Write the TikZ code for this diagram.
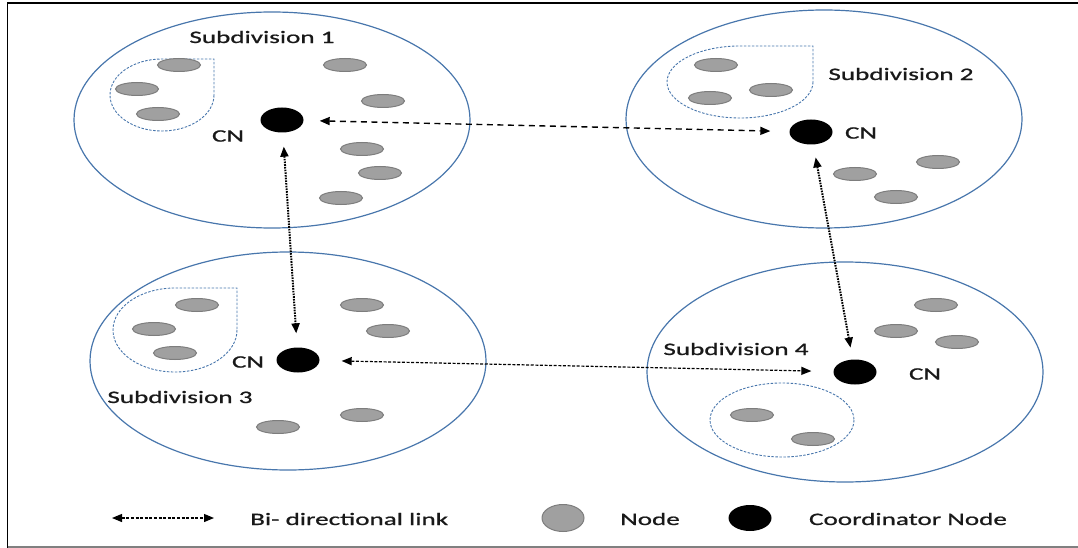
\documentclass[tikz,border=0pt]{standalone}
\usepackage{fontspec}
\newfontfamily\lblfont{Carlito}[FakeStretch=1.55,FakeBold=0.9]
\usetikzlibrary{shapes.geometric,arrows.meta}
\definecolor{subblue}{RGB}{72,118,172}
\definecolor{nodegrey}{RGB}{160,160,160}
\definecolor{nodeedge}{RGB}{125,125,125}
\begin{document}
\begin{tikzpicture}[x=1pt,y=-1pt,
  lbl/.style={font=\lblfont\fontsize{17.5}{20}\selectfont, text=black!90, inner sep=0pt},
  subdiv/.style={draw=subblue, line width=1.2pt},
  region/.style={draw=subblue, line width=0.9pt, dash pattern=on 2.5pt off 1.5pt},
  gnode/.style={ellipse, draw=nodeedge, line width=1pt, fill=nodegrey, inner sep=0pt, minimum width=43pt, minimum height=13pt},
  cnode/.style={ellipse, fill=black, inner sep=0pt, minimum width=43pt, minimum height=25pt},
  biarrow/.style={{Triangle[length=10pt,width=8pt]}-{Triangle[length=10pt,width=8pt]}},
  linkA/.style={biarrow, line width=1.4pt, dash pattern=on 6pt off 4.5pt},
  linkB/.style={biarrow, line width=2pt, dash pattern=on 1.6pt off 1.1pt},
  linkC/.style={biarrow, line width=1.2pt, dash pattern=on 3pt off 1.6pt},
]
\useasboundingbox (0,0) rectangle (1078,548);
% frame
\draw[line width=1.6pt] (7.5,548) -- (7.5,3) -- (1078,3);
\draw[line width=1.2pt, gray] (7.5,547) -- (1078,547);

% subdivision ellipses
\draw[subdiv] (272,120) ellipse[x radius=198, y radius=108];
\draw[subdiv] (824,119) ellipse[x radius=198, y radius=109];
\draw[subdiv] (288,361) ellipse[x radius=198, y radius=109];
\draw[subdiv] (845,372) ellipse[x radius=198, y radius=110];

% dashed groups
\draw[region] (214,95) arc[start angle=0, end angle=270, x radius=52, y radius=36] -- (214,59) -- cycle;
\draw[region] (813,82) arc[start angle=0, end angle=270, x radius=73, y radius=36] -- (813,46) -- cycle;
\draw[region] (237,330) arc[start angle=0, end angle=270, x radius=62, y radius=42] -- (237,288) -- cycle;
\draw[region] (782,420) ellipse[x radius=72, y radius=37];

% labels
\node[lbl] (s1) at (262,37) {Subdivision 1};
\node[lbl] (s2) at (901,74) {Subdivision 2};
\node[lbl] (s3) at (180,397) {Subdivision 3};
\node[lbl] (s4) at (736,349) {Subdivision 4};

% coordinator nodes
\node[cnode] (cn1) at (282,120) {};
\node[cnode] (cn2) at (811,132) {};
\node[cnode] (cn3) at (298,360) {};
\node[cnode] (cn4) at (855,372) {};
\node[lbl] (l1) at (228,136) {CN};
\node[lbl] (l2) at (861,133) {CN};
\node[lbl] (l3) at (248,362) {CN};
\node[lbl] (l4) at (925,374) {CN};

% sub 1 nodes
\node[gnode] (a1) at (179,65) {};
\node[gnode] (a2) at (137,89) {};
\node[gnode] (a3) at (158,114) {};
\node[gnode] (a4) at (345,65) {};
\node[gnode] (a5) at (383,101) {};
\node[gnode] (a6) at (362,149) {};
\node[gnode] (a7) at (380,173) {};
\node[gnode] (a8) at (341,198) {};
% sub 2 nodes
\node[gnode] (b1) at (716,65) {};
\node[gnode] (b2) at (710,98) {};
\node[gnode] (b3) at (771,90) {};
\node[gnode] (b4) at (938,162) {};
\node[gnode] (b5) at (855,174) {};
\node[gnode] (b6) at (896,197) {};
% sub 3 nodes
\node[gnode] (c1) at (197,305) {};
\node[gnode] (c2) at (154,329) {};
\node[gnode] (c3) at (175,353) {};
\node[gnode] (c4) at (362,305) {};
\node[gnode] (c5) at (388,331) {};
\node[gnode] (c6) at (362,415) {};
\node[gnode] (c7) at (278,427) {};
% sub 4 nodes
\node[gnode] (d1) at (936,305) {};
\node[gnode] (d2) at (896,331) {};
\node[gnode] (d3) at (957,342) {};
\node[gnode] (d4) at (752,415) {};
\node[gnode] (d5) at (813,439) {};

% links
\draw[linkA, shorten <=16pt, shorten >=19pt] (cn1) -- (cn2);
\draw[linkB, shorten <=14pt, shorten >=14pt] (cn1) -- (cn3);
\draw[linkB, shorten <=13pt, shorten >=12pt] (cn2) -- (cn4);
\draw[linkC, shorten <=22pt, shorten >=22pt] (cn3) -- (cn4);

% legend
\coordinate (la) at (112,518);
\coordinate (lb) at (214,518);
\draw[biarrow, line width=1.2pt, dash pattern=on 3pt off 1.6pt] (la) -- (lb);
\node[lbl, anchor=west] (lt1) at (250,519) {Bi- directional link};
\node[gnode, minimum width=42pt, minimum height=27pt] (lg) at (563,518) {};
\node[lbl] (lt2) at (650,519) {Node};
\node[cnode, minimum width=43pt, minimum height=26pt] (lc) at (750,518) {};
\node[lbl] (lt3) at (908,519) {Coordinator Node};
\end{tikzpicture}
\end{document}
